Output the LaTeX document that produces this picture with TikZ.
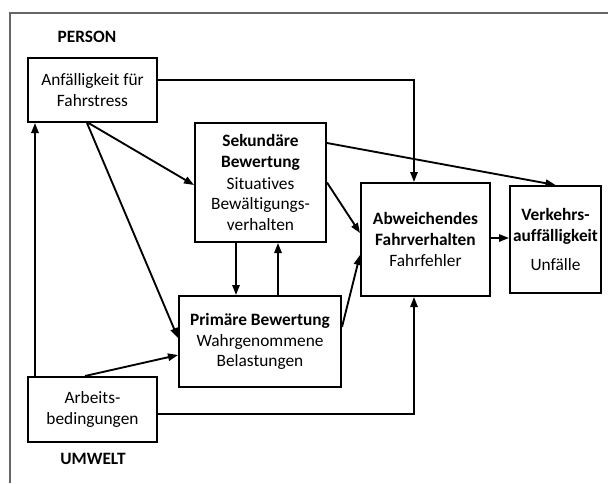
\documentclass[tikz,border=0pt]{standalone}
\usepackage{fontspec}
\setmainfont{Carlito}[Ligatures=NoCommon]
\usetikzlibrary{arrows.meta}
\definecolor{framegrey}{HTML}{666666}
\newdimen\pxu \pxu=0.75pt
\begin{document}
\begin{tikzpicture}[x=0.75pt,y=-0.75pt,
  box/.style={draw, line width=1.5pt, align=center, inner sep=0pt, font=\fontsize{13}{15.5}\selectfont},
  arr/.style={line width=1.4pt, -{Triangle[length=7.5pt,width=5.5pt]}},
  lbl/.style={font=\fontsize{13}{15.5}\selectfont\bfseries}]
\useasboundingbox (0,0) rectangle (608,483);
\draw[line width=1.1pt, framegrey] (10,483) -- (10,13) -- (608,13);

\node[lbl] (person) at (87,37) {PERSON};
\node[lbl] (umwelt) at (93,459) {UMWELT};

\node[box, minimum width=129\pxu, minimum height=64\pxu] (anf) at (92.5,90) {Anfälligkeit für\\Fahrstress};
\node[box, minimum width=131\pxu, minimum height=119\pxu] (sek) at (260.5,182.5) {\textbf{Sekundäre}\\\textbf{Bewertung}\\[1pt]Situatives\\Bewältigungs-\\verhalten};
\node[box, minimum width=129\pxu, minimum height=113\pxu] (abw) at (425.5,239.5) {\textbf{Abweichendes}\\\textbf{Fahrverhalten}\\Fahrfehler};
\node[box, minimum width=91\pxu, minimum height=107\pxu] (ver) at (555.5,239.5) {\textbf{Verkehrs-}\\\textbf{auffälligkeit}\\[6pt]Unfälle};
\node[box, minimum width=162\pxu, minimum height=91\pxu] (pri) at (260,341.5) {\textbf{Primäre Bewertung}\\Wahrgenommene\\Belastungen};
\node[box, minimum width=129\pxu, minimum height=65\pxu] (arb) at (92.5,409.5) {Arbeits-\\bedingungen};

\coordinate (d1) at ([xshift=-24.5\pxu]sek.south);
\coordinate (u1) at ([xshift=17.5\pxu]sek.south);
\coordinate (ae) at ([yshift=1.5\pxu]abw.east);

\draw[arr] ([yshift=10\pxu]anf.east) -| ([xshift=-11.5\pxu]abw.north);
\draw[arr] ([xshift=-4\pxu]anf.south) -- ([yshift=-2.5\pxu]sek.west);
\draw[arr] ([xshift=-5.5\pxu]anf.south) -- ([yshift=3.5\pxu]pri.west);
\draw[arr] ([xshift=8\pxu]arb.north west) -- ([xshift=8\pxu]anf.south west);
\draw[arr] ([xshift=-7.5\pxu]arb.north) -- ([yshift=-13.5\pxu]pri.west);
\draw[arr] ([yshift=-4.5\pxu]arb.east) -| ([xshift=-11.5\pxu]abw.south);
\draw[arr] (d1) -- (d1 |- pri.north);
\draw[arr] (u1 |- pri.north) -- (u1);
\draw[arr] (sek.east) -- ([yshift=6.5\pxu]abw.west);
\draw[arr] ([yshift=14.5\pxu]pri.east) -- ([yshift=-15.5\pxu]abw.west);
\draw[arr] ([yshift=39.5\pxu]sek.east) -- (ver.north);
\draw[arr] (ae) -- (ae -| ver.west);
\end{tikzpicture}
\end{document}
